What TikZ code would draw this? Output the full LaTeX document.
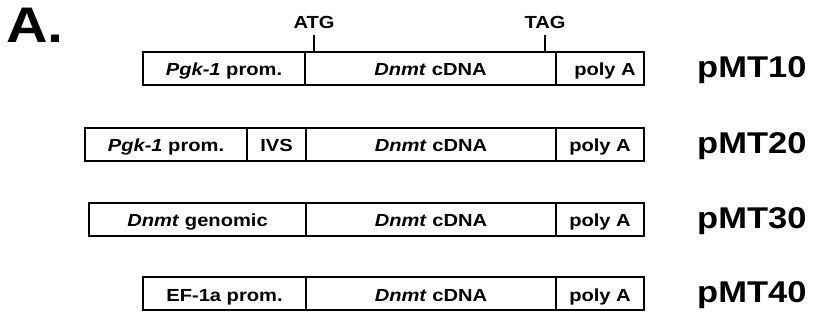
\documentclass[tikz,border=0pt]{standalone}
\usepackage{fontspec}
\setmainfont{Liberation Sans}[FakeStretch=1.15]
\begin{document}
\begin{tikzpicture}[x=1pt,y=-1pt,
  seg/.style={draw, line width=1.3pt, minimum height=33pt, inner sep=0pt, outer sep=0pt,
    text height=15.5pt, text depth=0.5pt,
    font=\fontsize{17.5}{17.5}\selectfont\bfseries},
  plab/.style={anchor=west, inner sep=0pt, font=\fontsize{30}{30}\selectfont\bfseries},
  site/.style={inner sep=0pt, anchor=south, font=\fontsize{17.5}{17.5}\selectfont\bfseries},
  tick/.style={line width=1.6pt}]
\useasboundingbox (0,0) rectangle (813,320);
\node[inner sep=0pt, anchor=north west, font=\fontsize{50}{50}\selectfont\bfseries] (A) at (6,8) {A.};
% row 1
\node[seg, minimum width=162pt] (a1) at (224,68.5) {\textit{Pgk-1} prom.};
\node[seg, minimum width=251pt] (a2) at (430.5,68.5) {\textit{Dnmt} cDNA};
\node[seg, minimum width=88pt] (a3) at (600,68.5) {\hspace{10pt}poly A};
\node[plab] (l1) at (697,70) {pMT10};
% row 2
\node[seg, minimum width=162pt] (b1) at (166,144.5) {\textit{Pgk-1} prom.};
\node[seg, minimum width=59pt] (b2) at (276.5,144.5) {IVS};
\node[seg, minimum width=250pt] (b3) at (431,144.5) {\textit{Dnmt} cDNA};
\node[seg, minimum width=88pt] (b4) at (600,144.5) {poly A};
\node[plab] (l2) at (697,146) {pMT20};
% row 3
\node[seg, minimum width=217pt] (c1) at (197.5,219.5) {\textit{Dnmt} genomic};
\node[seg, minimum width=250pt] (c2) at (431,219.5) {\textit{Dnmt} cDNA};
\node[seg, minimum width=88pt] (c3) at (600,219.5) {poly A};
\node[plab] (l3) at (697,221) {pMT30};
% row 4
\node[seg, minimum width=163pt] (d1) at (224.5,293.5) {EF-1a prom.};
\node[seg, minimum width=250pt] (d2) at (431,293.5) {\textit{Dnmt} cDNA};
\node[seg, minimum width=88pt] (d3) at (600,293.5) {poly A};
\node[plab] (l4) at (697,295) {pMT40};
% dividers thicker
\foreach \n in {a1,b1,b2,c1,d1}{\draw[tick] (\n.north east) -- (\n.south east);}
\foreach \n in {a2,b3,c2,d2}{\draw[tick] (\n.north east) -- (\n.south east);}
% start/stop sites
\coordinate (atg) at (314,35);
\coordinate (tag) at (545,35);
\draw[tick] (atg) -- (atg |- a2.north);
\draw[tick] (tag) -- (tag |- a2.north);
\node[site] (atgl) at ([yshift=6pt]atg) {ATG};
\node[site] (tagl) at ([yshift=6pt]tag) {TAG};
\end{tikzpicture}
\end{document}
